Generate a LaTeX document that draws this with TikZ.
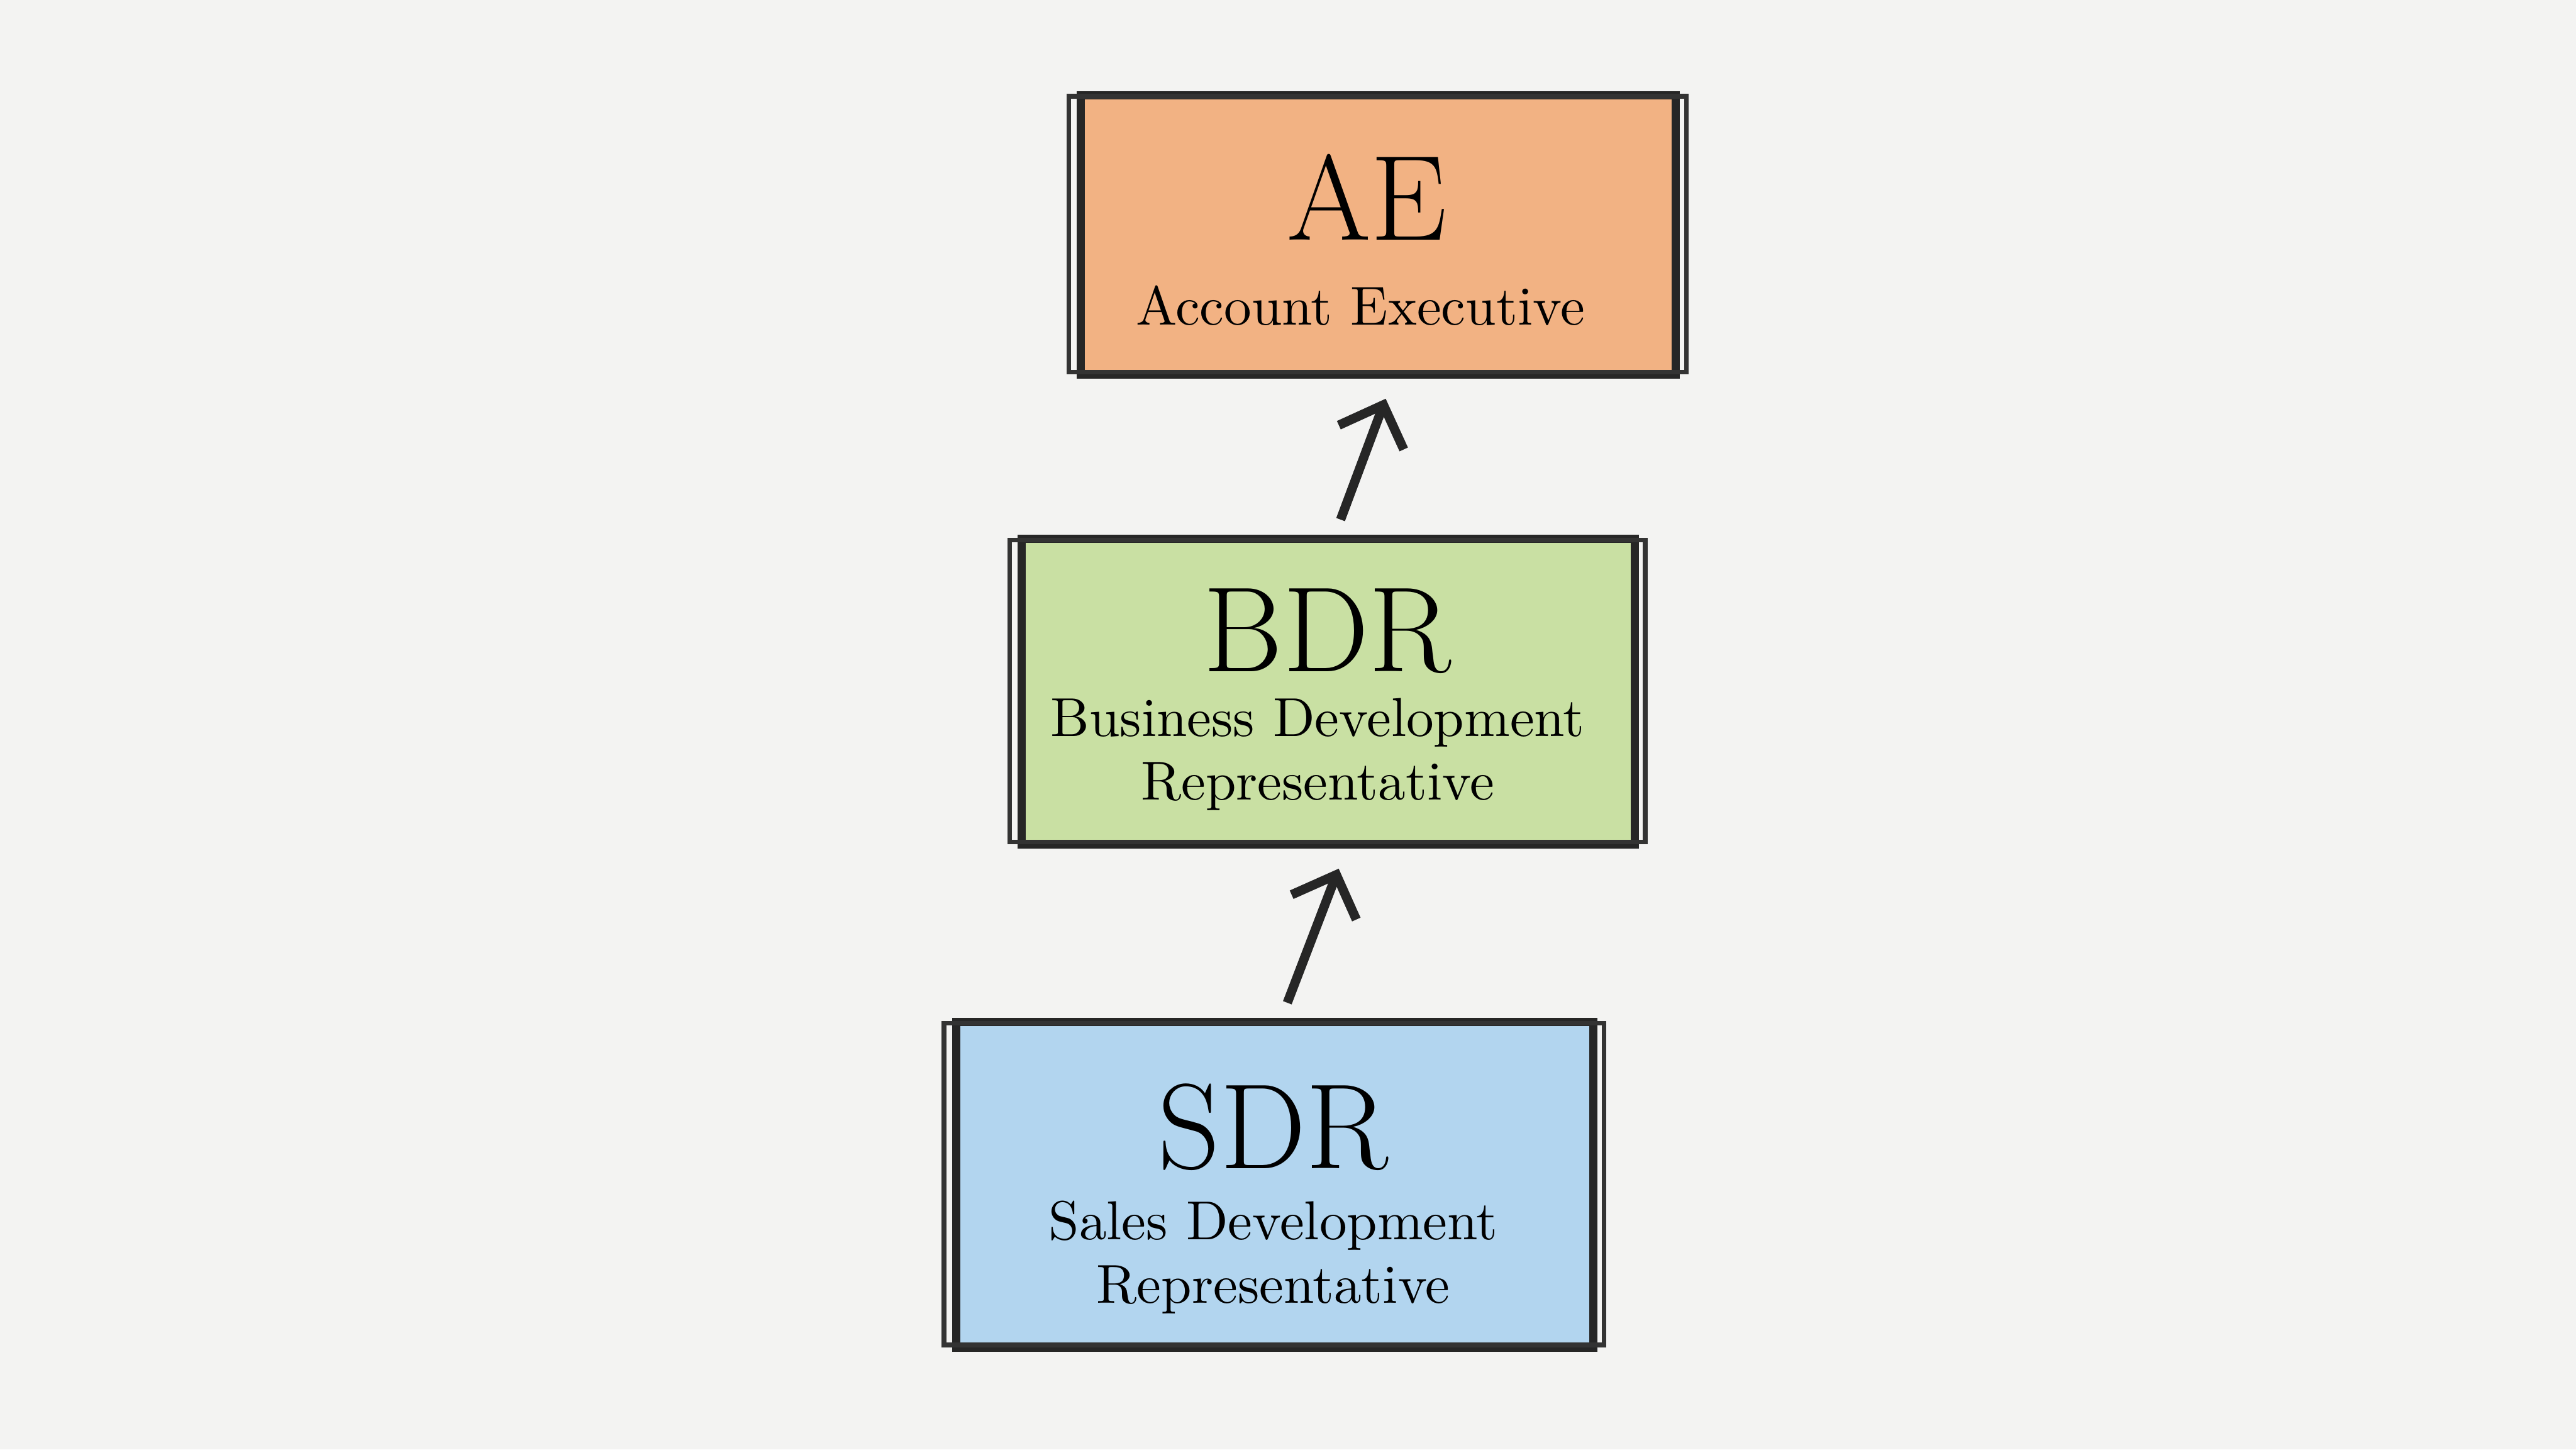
\documentclass[tikz,border=0pt]{standalone}
\usepackage{tikz}
\usetikzlibrary{arrows.meta}
\definecolor{paper}{HTML}{F3F3F2}
\definecolor{aefill}{HTML}{F2B283}
\definecolor{bdrfill}{HTML}{C9E0A3}
\definecolor{sdrfill}{HTML}{B2D5EF}
\tikzset{
  role/.style={draw=black!85, line width=1.4pt, align=center, inner sep=0pt},
  title/.style={font=\fontsize{21}{24}\selectfont},
  sub/.style={font=\fontsize{9.5}{11}\selectfont, align=center},
  up/.style={-{Straight Barb[length=6pt,width=12pt]}, line width=1.6pt, black!85, shorten <=0.1cm, shorten >=0.13cm}
}
\begin{document}
\begin{tikzpicture}
            \fill[paper] (0,0) rectangle (15.68,8.82);
            \node[role, fill=aefill, minimum width=3.62cm, minimum height=1.70cm] (ae) at (8.39,7.39) {};
            \node[role, fill=bdrfill, minimum width=3.73cm, minimum height=1.86cm] (bdr) at (8.085,4.61) {};
            \node[role, fill=sdrfill, minimum width=3.88cm, minimum height=1.98cm] (sdr) at (7.76,1.61) {};
            % second sketch stroke
            \draw[black!80, line width=0.8pt] ([shift={(-0.05,0.04)}]ae.south west) rectangle ([shift={(0.04,-0.03)}]ae.north east);
            \draw[black!80, line width=0.8pt] ([shift={(-0.05,0.04)}]bdr.south west) rectangle ([shift={(0.04,-0.03)}]bdr.north east);
            \draw[black!80, line width=0.8pt] ([shift={(-0.05,0.04)}]sdr.south west) rectangle ([shift={(0.04,-0.03)}]sdr.north east);
            \node[title] (aet) at (8.32,7.62) {AE};
            \node[sub] (aes) at (8.28,6.96) {Account Executive};
            \node[title] (bdrt) at (8.08,4.98) {BDR};
            \node[sub] (bdrs) at (8.02,4.23) {Business Development\\Representative};
            \node[title] (sdrt) at (7.75,1.96) {SDR};
            \node[sub] (sdrs) at (7.75,1.17) {Sales Development\\Representative};
    \draw[up] ([xshift=0.04cm]sdr.north) -- ([xshift=0.11cm]bdr.south);
    \draw[up] ([xshift=0.04cm]bdr.north) -- ([xshift=0.09cm]ae.south);
        \end{tikzpicture}
\end{document}
